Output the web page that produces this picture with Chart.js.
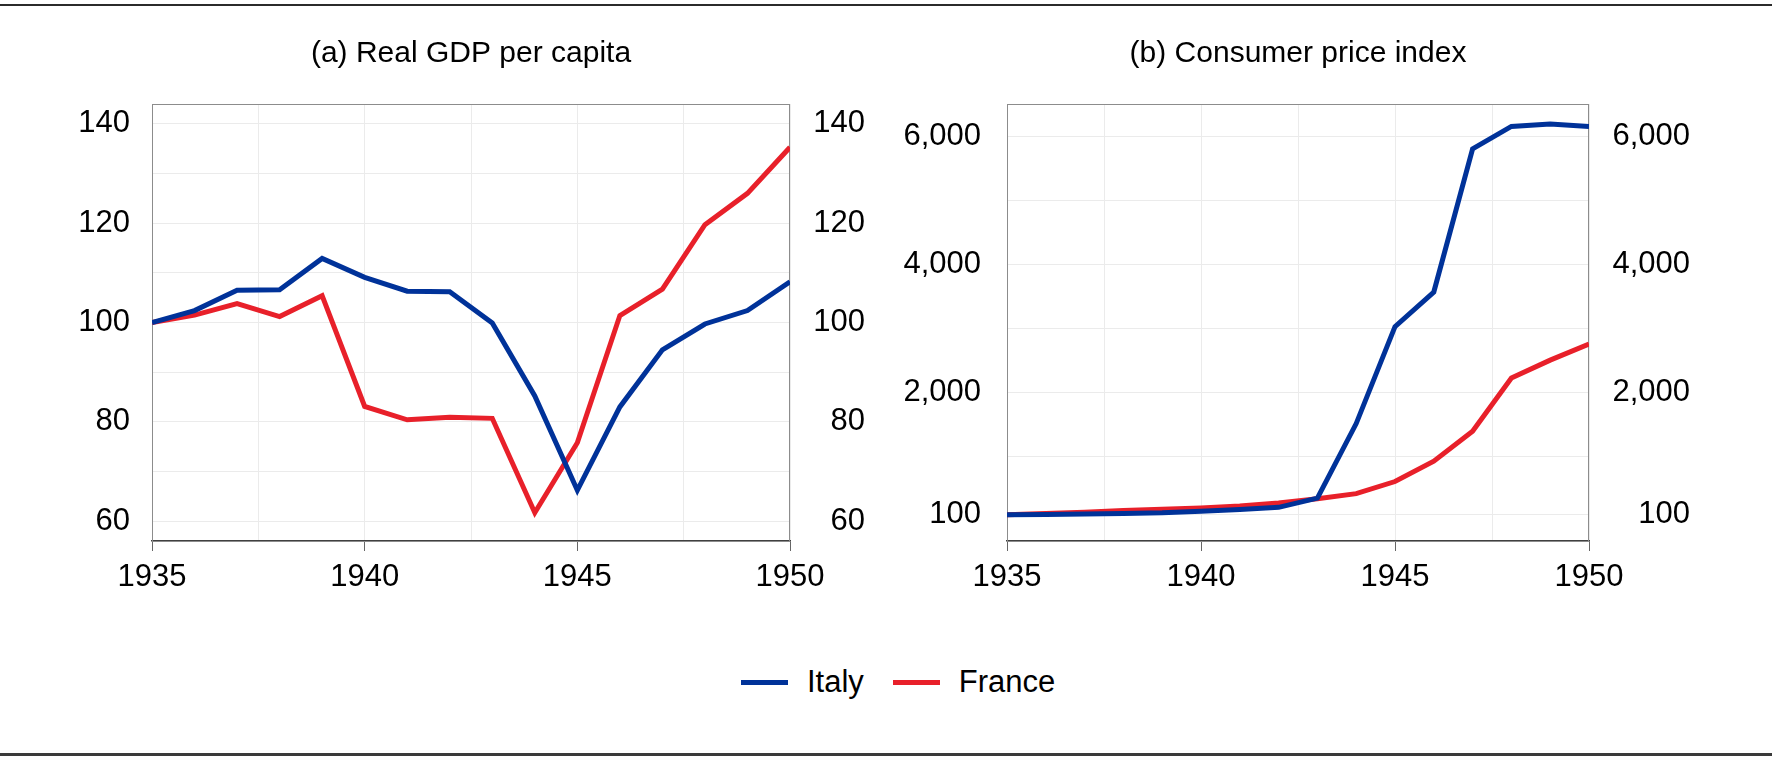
<!DOCTYPE html>
<html>
<head>
<meta charset="utf-8">
<script src="https://cdn.jsdelivr.net/npm/chart.js@4.4.1/dist/chart.umd.min.js"></script>
<style>
    body { margin: 0; background: #fff; width: 1772px; height: 761px; position: relative; overflow: hidden; font-family: "Liberation Sans", Arial, sans-serif; }
    canvas { position: absolute; top: 0; }
    #gdpChart { left: 0; }
    #cpiChart { left: 886px; }
    .rule { position: absolute; left: 0; width: 1772px; background: #2b2b2b; }
    #legend { position: absolute; left: 741px; top: 662px; height: 40px; display: flex; align-items: center; font-size: 31px; color: #000; }
    #legend .swatch { display: inline-block; width: 47px; height: 5px; margin-right: 19px; }
    #legend .item { display: flex; align-items: center; margin-right: 29px; }
</style>
</head>
<body>
<div class="rule" style="top:4px;height:2px"></div>
<canvas id="gdpChart" width="886" height="640"></canvas>
<canvas id="cpiChart" width="886" height="640"></canvas>
<div id="legend">
    <span class="item"><span class="swatch" style="background:#003299"></span>Italy</span>
    <span class="item"><span class="swatch" style="background:#e8202a"></span>France</span>
</div>
<div class="rule" style="top:753px;height:3px;background:#3a3a3a"></div>
<script>
const years = [1935, 1936, 1937, 1938, 1939, 1940, 1941, 1942, 1943, 1944, 1945, 1946, 1947, 1948, 1949, 1950];

// (a) real GDP per capita, 1935 = 100
const gdpItaly  = [100, 102.4, 106.5, 106.6, 112.9, 109.1, 106.3, 106.2, 99.9, 85.2, 66.2, 83.0, 94.5, 99.7, 102.4, 108.2];
const gdpFrance = [100, 101.5, 103.8, 101.2, 105.4, 83.1, 80.4, 80.9, 80.7, 61.7, 75.8, 101.4, 106.7, 119.7, 126.0, 135.3];

// (b) consumer price index, 1935 = 100
const cpiItaly  = [100, 104, 112, 120, 130, 155, 180, 215, 358, 1520, 3030, 3570, 5800, 6150, 6190, 6150];
const cpiFrance = [100, 118, 140, 165, 185, 205, 235, 284, 350, 428, 617, 935, 1402, 2231, 2509, 2759];

const yearTicks  = [1935, 1937.5, 1940, 1942.5, 1945, 1947.5, 1950];
const yearLabels = [1935, 1940, 1945, 1950];
const gdpTicks   = [60, 70, 80, 90, 100, 110, 120, 130, 140];
const gdpLabels  = [60, 80, 100, 120, 140];
const cpiTicks   = [100, 1000, 2000, 3000, 4000, 5000, 6000];
const cpiLabels  = [100, 2000, 4000, 6000];

const BLUE = "#003299";
const RED = "#e8202a";
const FONT = "'Liberation Sans', Arial, sans-serif";

function points(values) {
    return years.map((yr, i) => ({ x: yr, y: values[i] }));
}

// grey frame around the plot area
const framePlugin = {
    id: "frame",
    beforeDatasetsDraw(chart) {
        const a = chart.chartArea;
        const c = chart.ctx;
        c.save();
        c.strokeStyle = "#8c8c8c";
        c.lineWidth = 1;
        c.strokeRect(a.left + 0.5, a.top + 0.5, a.right - a.left - 1, a.bottom - a.top);
        c.restore();
    }
};

function yAxis(side, ticks, labels, min, max, width, padding, far) {
    return {
        type: "linear",
        position: side,
        min: min,
        max: max,
        afterBuildTicks: s => { s.ticks = ticks.map(v => ({ value: v })); },
        afterFit: s => { s.width = width; },
        grid: { display: side === "left", color: "#ebebeb", lineWidth: 1, drawTicks: false },
        border: { display: false },
        ticks: {
            padding: padding,
            crossAlign: far ? "far" : "near",
            color: "#000",
            font: { family: FONT, size: 31 },
            callback: v => labels.includes(v) ? v.toLocaleString("en-US") : ""
        }
    };
}

function makeChart(id, title, italy, france, yMin, yMax, ticks, labels, axes) {
    return new Chart(document.getElementById(id), {
        type: "line",
        data: {
            datasets: [
                { label: "Italy", data: points(italy), borderColor: BLUE, borderWidth: 5, pointRadius: 0, tension: 0, yAxisID: "y" },
                { label: "France", data: points(france), borderColor: RED, borderWidth: 5, pointRadius: 0, tension: 0, yAxisID: "y" }
            ]
        },
        options: {
            responsive: false,
            animation: false,
            devicePixelRatio: 1,
            layout: { padding: { left: 0, right: axes.padRight, top: 0, bottom: 0 } },
            plugins: {
                legend: { display: false },
                tooltip: { enabled: false },
                title: {
                    display: true,
                    fullSize: false,
                    text: title,
                    color: "#000",
                    font: { family: FONT, size: 30, weight: "normal" },
                    padding: { top: 36, bottom: 32 }
                }
            },
            scales: {
                x: {
                    type: "linear",
                    min: 1935,
                    max: 1950,
                    afterBuildTicks: s => { s.ticks = yearTicks.map(v => ({ value: v })); },
                    afterFit: s => { s.height = 99; },
                    grid: {
                        color: "#ebebeb",
                        lineWidth: 1,
                        tickLength: 10,
                        tickColor: ctx => yearLabels.includes(ctx.tick.value) ? "#666" : "rgba(0,0,0,0)"
                    },
                    border: { color: "#404040", width: 1.5 },
                    ticks: {
                        padding: 8,
                        maxRotation: 0,
                        autoSkip: false,
                        color: "#000",
                        font: { family: FONT, size: 31 },
                        callback: v => yearLabels.includes(v) ? String(v) : ""
                    }
                },
                y: yAxis("left", ticks, labels, yMin, yMax, axes.leftWidth, axes.leftPad, false),
                y2: yAxis("right", ticks, labels, yMin, yMax, axes.rightWidth, 0, true)
            }
        },
        plugins: [framePlugin]
    });
}

makeChart("gdpChart", "(a) Real GDP per capita", gdpItaly, gdpFrance, 56, 144, gdpTicks, gdpLabels,
    { leftWidth: 152, leftPad: 22, rightWidth: 75, padRight: 21 });

makeChart("cpiChart", "(b) Consumer price index", cpiItaly, cpiFrance, -310, 6500, cpiTicks, cpiLabels,
    { leftWidth: 121, leftPad: 26, rightWidth: 101, padRight: 82 });
</script>
</body>
</html>
